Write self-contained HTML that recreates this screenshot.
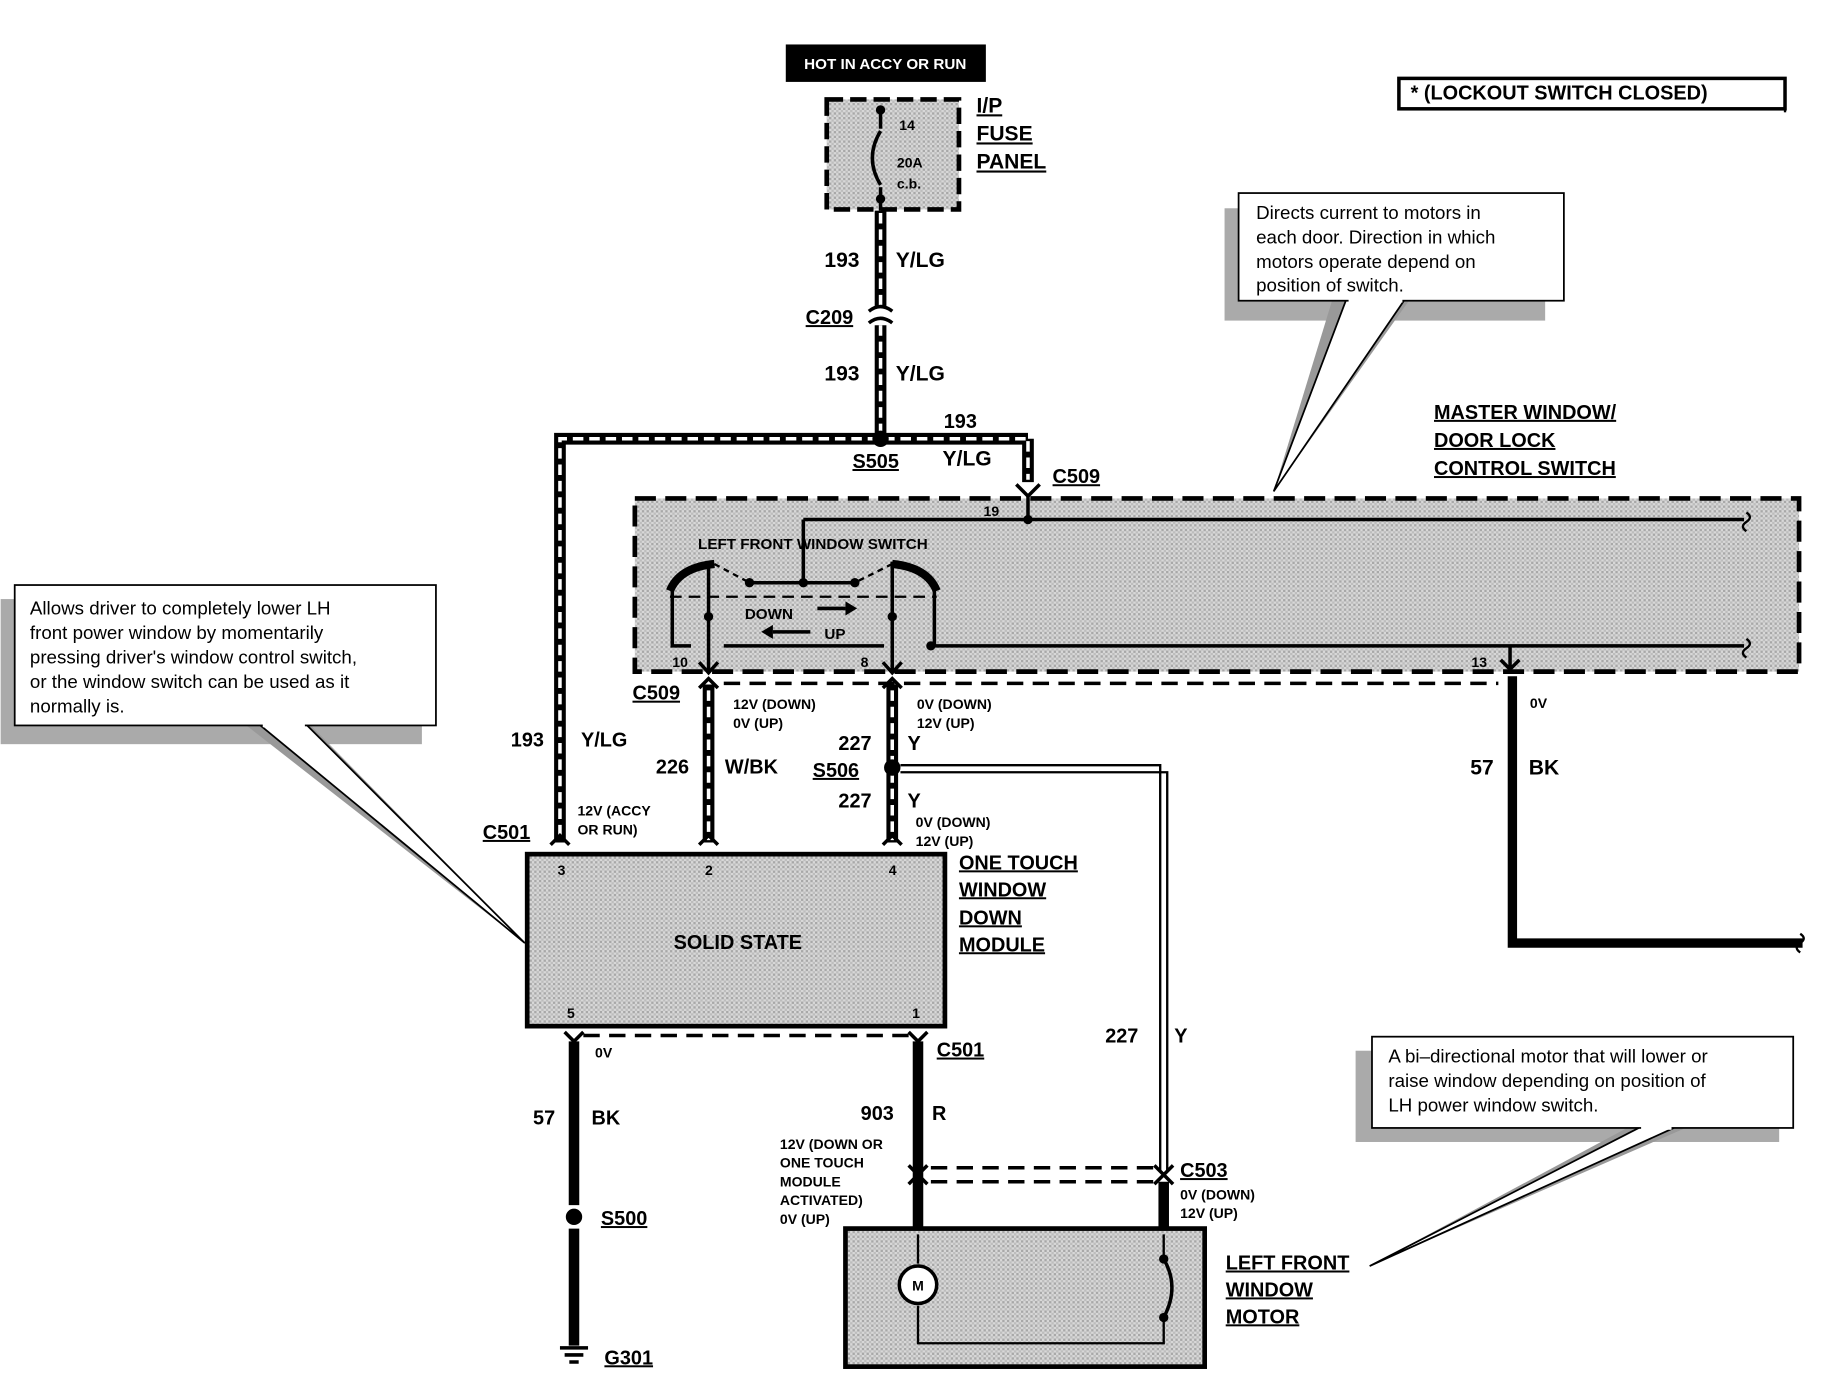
<!DOCTYPE html>
<html><head><meta charset="utf-8"><style>
html,body{margin:0;padding:0;background:#fff;}
svg{display:block;}
text{font-family:"Liberation Sans",Arial,sans-serif;font-weight:bold;fill:#000;}
.u{text-decoration:underline;}
</style></head><body>
<svg width="1836" height="1376" viewBox="0 0 1568 1176" xmlns="http://www.w3.org/2000/svg">
<defs>
<pattern id="g" width="4" height="4" patternUnits="userSpaceOnUse"><rect width="4" height="4" fill="#d8d8d8"/><rect width="2" height="2" fill="#a8a8a8"/><rect x="2" y="2" width="2" height="2" fill="#bdbdbd"/></pattern>
</defs>
<rect width="1568" height="1176" fill="#fff"/>

<!-- top box -->
<rect x="671" y="38" width="171" height="32" fill="#000"/>
<text x="756" y="59" font-size="13" text-anchor="middle" style="fill:#fff">HOT IN ACCY OR RUN</text>

<!-- fuse panel -->
<rect x="706" y="85" width="113" height="94" fill="url(#g)" stroke="#000" stroke-width="4" stroke-dasharray="14,6"/>
<line x1="752" y1="95" x2="752" y2="110" stroke="#000" stroke-width="3"/>
<path d="M752 112 Q738 135 752 158" fill="none" stroke="#000" stroke-width="3"/>
<line x1="752" y1="160" x2="752" y2="180" stroke="#000" stroke-width="3"/>
<circle cx="752" cy="94" r="4"/><circle cx="752" cy="170" r="4"/>
<text x="768" y="111" font-size="12">14</text>
<text x="766" y="143" font-size="12">20A</text>
<text x="766" y="161" font-size="12">c.b.</text>
<text x="834" y="96" font-size="18" class="u">I/P</text>
<text x="834" y="120" font-size="18" class="u">FUSE</text>
<text x="834" y="144" font-size="18" class="u">PANEL</text>

<!-- wires (double) -->
<g fill="none" stroke="#000" stroke-width="10">
<path d="M752 180 V262 M752 278 V375"/>
<path d="M878 375 H478 V720"/>
<path d="M878 375 V412"/>
<path d="M605 585 V720 M762 585 V720"/>
</g>
<g fill="none" stroke="#fff" stroke-width="3" stroke-dasharray="9,5">
<path d="M752 182 V262 M752 278 V373"/>
<path d="M876 375 H478 V718"/>
<path d="M878 377 V410"/>
<path d="M605 590 V718 M762 590 V718"/>
</g>
<!-- C209 connector -->
<path d="M742 266 Q752 258 762 266 M742 276 Q752 268 762 276" fill="none" stroke="#000" stroke-width="3"/>
<circle cx="752" cy="375" r="7"/>
<text x="704" y="228" font-size="18">193</text><text x="765" y="228" font-size="18">Y/LG</text>
<text x="688" y="277" font-size="17" class="u">C209</text>
<text x="704" y="325" font-size="18">193</text><text x="765" y="325" font-size="18">Y/LG</text>
<text x="806" y="366" font-size="17">193</text><text x="805" y="398" font-size="18">Y/LG</text>
<text x="728" y="400" font-size="17" class="u">S505</text>
<text x="899" y="413" font-size="17" class="u">C509</text>
<path d="M868 414 L878 424 L888 414" fill="none" stroke="#000" stroke-width="3"/>

<!-- master switch -->
<rect x="542" y="426" width="995" height="148" fill="url(#g)" stroke="#000" stroke-width="4" stroke-dasharray="18,8"/>
<line x1="878" y1="424" x2="878" y2="444" stroke="#000" stroke-width="3"/>
<circle cx="878" cy="444" r="4"/>
<line x1="686" y1="444" x2="1490" y2="444" stroke="#000" stroke-width="3"/>
<line x1="686" y1="444" x2="686" y2="498" stroke="#000" stroke-width="3"/>
<line x1="640" y1="498" x2="730" y2="498" stroke="#000" stroke-width="3"/>
<circle cx="686" cy="498" r="4"/><circle cx="640" cy="498" r="4"/><circle cx="730" cy="498" r="4"/>
<path d="M572 505 Q580 485 610 482 M800 505 Q792 485 762 482" fill="none" stroke="#000" stroke-width="7"/>
<path d="M610 482 L640 498 M762 482 L730 498" stroke="#000" stroke-width="2" stroke-dasharray="5,4"/>
<path d="M574 505 V552 H590 M798 505 V552" fill="none" stroke="#000" stroke-width="3"/>
<line x1="605" y1="480" x2="605" y2="575" stroke="#000" stroke-width="3"/>
<line x1="762" y1="480" x2="762" y2="575" stroke="#000" stroke-width="3"/>
<circle cx="605" cy="527" r="4"/><circle cx="762" cy="527" r="4"/><circle cx="795" cy="552" r="4"/>
<line x1="572" y1="510" x2="800" y2="510" stroke="#000" stroke-width="2" stroke-dasharray="10,6"/>
<line x1="618" y1="552" x2="755" y2="552" stroke="#000" stroke-width="3"/>
<line x1="795" y1="552" x2="1490" y2="552" stroke="#000" stroke-width="3"/>
<path d="M1290 552 V572 M1282 564 L1290 572 L1298 564" fill="none" stroke="#000" stroke-width="3"/>
<path d="M597 566 L605 575 L613 566 M754 566 L762 575 L770 566" fill="none" stroke="#000" stroke-width="3"/>
<path d="M1492 438 q6 4 0 8 q-6 4 0 8 M1492 546 q6 4 0 8 q-6 4 0 8" fill="none" stroke="#000" stroke-width="2"/>
<text x="596" y="469" font-size="13">LEFT FRONT  WINDOW SWITCH</text>
<text x="636" y="529" font-size="13">DOWN</text><text x="704" y="546" font-size="13">UP</text>
<path d="M698 520 H722" stroke="#000" stroke-width="3"/><path d="M722 514 L732 520 L722 526Z"/>
<path d="M660 540 H692" stroke="#000" stroke-width="3"/><path d="M660 534 L650 540 L660 546Z"/>
<text x="840" y="441" font-size="12">19</text>
<text x="574" y="570" font-size="12">10</text><text x="735" y="570" font-size="12">8</text><text x="1257" y="570" font-size="12">13</text>
<path d="M597 588 L605 580 L613 588 M754 588 L762 580 L770 588" fill="none" stroke="#000" stroke-width="3"/>
<line x1="618" y1="584" x2="1280" y2="584" stroke="#000" stroke-width="3" stroke-dasharray="14,8"/>
<text x="1225" y="358" font-size="17" class="u">MASTER WINDOW/</text>
<text x="1225" y="382" font-size="17" class="u">DOOR LOCK</text>
<text x="1225" y="406" font-size="17" class="u">CONTROL SWITCH</text>

<!-- 57 BK right -->
<path d="M1292 578 V806 H1540" fill="none" stroke="#000" stroke-width="8"/>
<path d="M1538 798 q6 4 0 8 q-6 4 0 8" fill="none" stroke="#000" stroke-width="2"/>
<text x="1307" y="605" font-size="12">0V</text>
<text x="1256" y="662" font-size="18">57</text><text x="1306" y="662" font-size="18">BK</text>

<!-- labels mid -->
<text x="540" y="598" font-size="17" class="u">C509</text>
<text x="626" y="606" font-size="12">12V (DOWN)</text><text x="626" y="622" font-size="12">0V (UP)</text>
<text x="783" y="606" font-size="12">0V (DOWN)</text><text x="783" y="622" font-size="12">12V (UP)</text>
<text x="436" y="638" font-size="17">193</text><text x="496" y="638" font-size="17">Y/LG</text>
<text x="560" y="661" font-size="17">226</text><text x="619" y="661" font-size="17">W/BK</text>
<text x="716" y="641" font-size="17">227</text><text x="775" y="641" font-size="17">Y</text>
<text x="694" y="664" font-size="17" class="u">S506</text>
<text x="716" y="690" font-size="17">227</text><text x="775" y="690" font-size="17">Y</text>
<text x="493" y="697" font-size="12">12V (ACCY</text><text x="493" y="713" font-size="12">OR RUN)</text>
<text x="782" y="707" font-size="12">0V (DOWN)</text><text x="782" y="723" font-size="12">12V (UP)</text>
<text x="412" y="717" font-size="17" class="u">C501</text>
<circle cx="762" cy="656" r="7"/>
<path d="M769 654 H991 V1000 M769 660 H997 V1000" fill="none" stroke="#000" stroke-width="2"/>
<path d="M470 722 L478 714 L486 722 M597 722 L605 714 L613 722 M754 722 L762 714 L770 722" fill="none" stroke="#000" stroke-width="3"/>

<!-- solid state -->
<rect x="450" y="730" width="357" height="147" fill="url(#g)" stroke="#000" stroke-width="4"/>
<text x="630" y="811" font-size="17" text-anchor="middle">SOLID STATE</text>
<text x="476" y="748" font-size="12">3</text><text x="602" y="748" font-size="12">2</text><text x="759" y="748" font-size="12">4</text>
<text x="484" y="870" font-size="12">5</text><text x="779" y="870" font-size="12">1</text>
<text x="819" y="743" font-size="17" class="u">ONE TOUCH</text>
<text x="819" y="766" font-size="17" class="u">WINDOW</text>
<text x="819" y="790" font-size="17" class="u">DOWN</text>
<text x="819" y="813" font-size="17" class="u">MODULE</text>

<!-- bottom wires -->
<path d="M482 882 L490 890 L498 882 M776 882 L784 890 L792 882" fill="none" stroke="#000" stroke-width="3"/>
<line x1="498" y1="885" x2="776" y2="885" stroke="#000" stroke-width="3" stroke-dasharray="14,8"/>
<path d="M490 890 V1030 M490 1050 V1150 M784 890 V1050" fill="none" stroke="#000" stroke-width="9"/>
<circle cx="490" cy="1040" r="7"/>
<text x="508" y="904" font-size="12">0V</text>
<text x="800" y="903" font-size="17" class="u">C501</text>
<text x="455" y="961" font-size="17">57</text><text x="505" y="961" font-size="17">BK</text>
<text x="735" y="957" font-size="17">903</text><text x="796" y="957" font-size="17">R</text>
<text x="944" y="891" font-size="17">227</text><text x="1003" y="891" font-size="17">Y</text>
<text x="666" y="982" font-size="12">12V (DOWN OR</text>
<text x="666" y="998" font-size="12">ONE  TOUCH</text>
<text x="666" y="1014" font-size="12">MODULE</text>
<text x="666" y="1030" font-size="12">ACTIVATED)</text>
<text x="666" y="1046" font-size="12">0V (UP)</text>
<text x="513" y="1047" font-size="17" class="u">S500</text>
<path d="M776 996 L784 1004 L792 996 M776 1012 L784 1004 L792 1012 M986 996 L994 1004 L1002 996 M986 1012 L994 1004 L1002 1012" fill="none" stroke="#000" stroke-width="3"/>
<line x1="795" y1="998" x2="985" y2="998" stroke="#000" stroke-width="3" stroke-dasharray="14,8"/>
<line x1="795" y1="1010" x2="985" y2="1010" stroke="#000" stroke-width="3" stroke-dasharray="14,8"/>
<line x1="994" y1="1010" x2="994" y2="1050" stroke="#000" stroke-width="9"/>
<text x="1008" y="1006" font-size="17" class="u">C503</text>
<text x="1008" y="1025" font-size="12">0V (DOWN)</text><text x="1008" y="1041" font-size="12">12V (UP)</text>
<!-- ground -->
<path d="M478 1152 H502 M482 1158 H498 M486 1164 H494" stroke="#000" stroke-width="3"/>
<text x="516" y="1166" font-size="17" class="u">G301</text>

<!-- motor -->
<rect x="722" y="1050" width="307" height="118" fill="url(#g)" stroke="#000" stroke-width="4"/>
<path d="M784 1055 V1080 M784 1116 V1148 H994 V1128 M994 1055 V1074" fill="none" stroke="#000" stroke-width="2"/>
<circle cx="784" cy="1098" r="16" fill="#fff" stroke="#000" stroke-width="3"/>
<text x="784" y="1103" font-size="12" text-anchor="middle">M</text>
<path d="M994 1076 Q1008 1100 994 1126" fill="none" stroke="#000" stroke-width="3"/>
<circle cx="994" cy="1076" r="4"/><circle cx="994" cy="1126" r="4"/>
<text x="1047" y="1085" font-size="17" class="u">LEFT FRONT</text>
<text x="1047" y="1108" font-size="17" class="u">WINDOW</text>
<text x="1047" y="1131" font-size="17" class="u">MOTOR</text>

<!-- lockout -->
<rect x="1195" y="67" width="330" height="26" fill="#fff" stroke="#000" stroke-width="3"/>
<line x1="1525" y1="70" x2="1525" y2="96" stroke="#000" stroke-width="2"/>
<text x="1205" y="85" font-size="17">*   (LOCKOUT SWITCH CLOSED)</text>

<!-- callout 1 -->
<rect x="1046" y="178" width="274" height="96" fill="#aaa"/>
<path d="M1140 250 L1088 420 L1205 255 Z" fill="#999"/>
<path d="M1150 256 L1088 420 L1200 256" fill="#fff" stroke="#000" stroke-width="1.5"/>
<rect x="1058" y="165" width="278" height="92" fill="#fff" stroke="#000" stroke-width="1.5"/>
<line x1="1152" y1="257" x2="1198" y2="257" stroke="#fff" stroke-width="3"/>
<text font-size="16" style="font-weight:normal"><tspan x="1073" y="187">Directs current to motors in</tspan><tspan x="1073" y="208">each door.  Direction in which</tspan><tspan x="1073" y="229">motors  operate  depend  on</tspan><tspan x="1073" y="249">position of switch.</tspan></text>

<!-- callout 2 -->
<rect x="0" y="512" width="360" height="124" fill="#aaa"/>
<path d="M210 620 L448 806 L265 620Z" fill="#999"/>
<path d="M222 620 L448 806 L262 620" fill="#fff" stroke="#000" stroke-width="1.5"/>
<rect x="12" y="500" width="360" height="120" fill="#fff" stroke="#000" stroke-width="1.5"/>
<line x1="224" y1="620" x2="260" y2="620" stroke="#fff" stroke-width="3"/>
<text font-size="16" style="font-weight:normal"><tspan x="25" y="525">Allows driver to completely lower LH</tspan><tspan x="25" y="546">front power window by momentarily</tspan><tspan x="25" y="567">pressing driver's window control switch,</tspan><tspan x="25" y="588">or the window switch can be used as it</tspan><tspan x="25" y="609">normally is.</tspan></text>

<!-- callout 3 -->
<rect x="1158" y="898" width="362" height="78" fill="#aaa"/>
<path d="M1390 964 L1170 1082 L1440 964Z" fill="#999"/>
<path d="M1400 964 L1170 1082 L1430 964" fill="#fff" stroke="#000" stroke-width="1.5"/>
<rect x="1172" y="886" width="360" height="78" fill="#fff" stroke="#000" stroke-width="1.5"/>
<line x1="1402" y1="964" x2="1428" y2="964" stroke="#fff" stroke-width="3"/>
<text font-size="16" style="font-weight:normal"><tspan x="1186" y="908">A bi–directional motor that will lower or</tspan><tspan x="1186" y="929">raise window depending on position of</tspan><tspan x="1186" y="950">LH power window switch.</tspan></text>
</svg>
</body></html>
